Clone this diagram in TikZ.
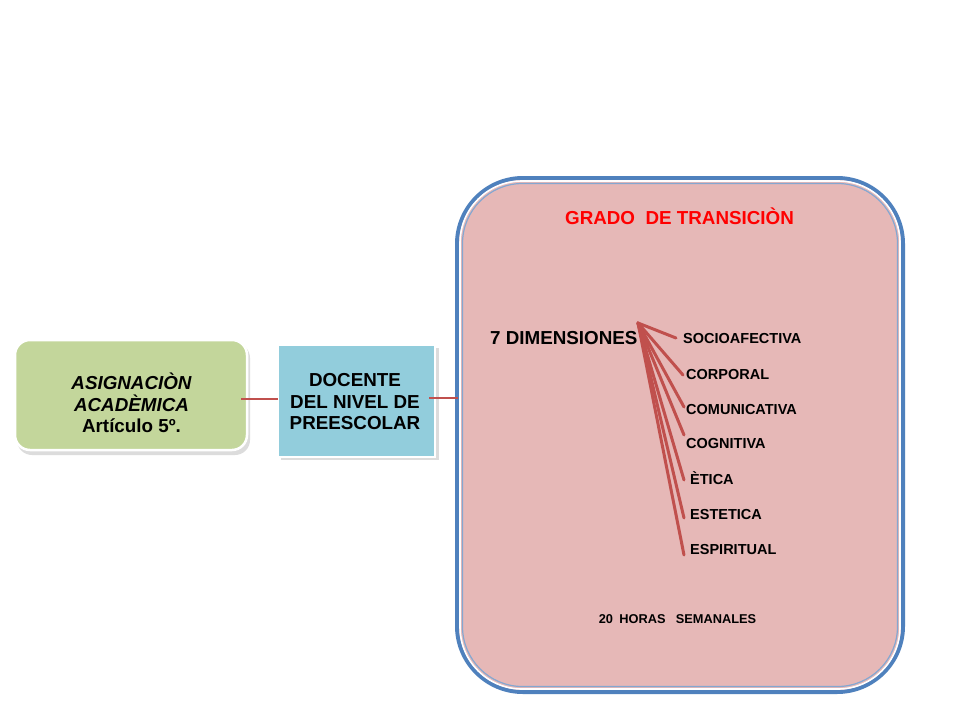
\documentclass[tikz,border=0pt]{standalone}
\usepackage{fontspec}
\setmainfont{Liberation Sans}
\usetikzlibrary{calc}
\definecolor{bigfill}{HTML}{E6B8B7}
\definecolor{bigblue}{HTML}{4F81BD}
\definecolor{greenfill}{HTML}{C3D69B}
\definecolor{bluefill}{HTML}{92CDDC}
\definecolor{linkred}{HTML}{C0504D}
\definecolor{titlered}{HTML}{FF0000}
\begin{document}
\begin{tikzpicture}[x=1pt,y=1pt,
  link/.style={draw=linkred,line width=2.8pt},
  fan/.style={draw=linkred,line width=3pt,line cap=round},
  dimlabel/.style={anchor=base west,inner sep=0pt,font=\fontsize{14.5}{16}\selectfont\bfseries},
  boxtext/.style={align=center,inner sep=0pt,font=\fontsize{18.8}{21.5}\selectfont\bfseries}]
\useasboundingbox (0,0) rectangle (960,-720);
\fill[white] (0,0) rectangle (960,-720);
% big box
\draw[bigblue,line width=4pt,fill=bigfill,rounded corners=66pt] (457,-178) rectangle (903,-692);
\draw[white,line width=1.6pt,rounded corners=62pt] (460,-181) rectangle (900,-689);
\draw[bigblue!70,line width=1.2pt,rounded corners=60pt] (462.5,-183.5) rectangle (897.5,-686.5);
% green box
\fill[black!30,opacity=0.45,rounded corners=15pt] (17,-343) rectangle (250,-455);
\draw[white,line width=2.5pt,fill=greenfill,rounded corners=15pt] (15,-340) rectangle (247,-450);
\node[boxtext] (asig) at (131.5,-403) {\itshape ASIGNACIÒN\\\itshape ACADÈMICA\\Artículo 5º.};
\coordinate (asigR) at (241,-399);
% blue box
\fill[black!30,opacity=0.45] (281,-348) rectangle (439,-460);
\draw[white,line width=2.5pt,fill=bluefill] (278,-345) rectangle (435,-457);
\node[boxtext] (doc) at (355,-402) {DOCENTE\\DEL NIVEL DE\\PREESCOLAR};
\coordinate (docL) at (278,-399);
\coordinate (docR) at (429,-398);
\coordinate (bigL) at (458,-398);
\draw[link] (asigR) -- (docL);
\draw[link] (docR) -- (bigL);
% texts
\node[anchor=base,inner sep=0pt,text=titlered,font=\fontsize{18.8}{20}\selectfont\bfseries] (grado) at (679.5,-224) {GRADO\ \ DE TRANSICIÒN};
\node[anchor=base west,inner sep=0pt,font=\fontsize{18.8}{20}\selectfont\bfseries] (dim) at (490,-344) {7 DIMENSIONES};
\coordinate (hub) at (638,-323);
\node[dimlabel] (d1) at (683,-343) {SOCIOAFECTIVA};
\node[dimlabel] (d2) at (686,-379) {CORPORAL};
\node[dimlabel] (d3) at (686,-414) {COMUNICATIVA};
\node[dimlabel] (d4) at (686,-448) {COGNITIVA};
\node[dimlabel] (d5) at (690,-484) {ÈTICA};
\node[dimlabel] (d6) at (690,-519) {ESTETICA};
\node[dimlabel] (d7) at (690,-554) {ESPIRITUAL};
\draw[fan] (hub) -- ($(d1.base west)+(-7,5)$);
\draw[fan] (hub) -- ($(d2.base west)+(-3,4)$);
\draw[fan] (hub) -- ($(d3.base west)+(-2,7)$);
\draw[fan] (hub) -- ($(d4.base west)+(-2,13)$);
\draw[fan] (hub) -- ($(d5.base west)+(-6,4)$);
\draw[fan] (hub) -- ($(d6.base west)+(-6,1)$);
\draw[fan] (hub) -- ($(d7.base west)+(-6,-1)$);
\node[anchor=base,inner sep=0pt,font=\fontsize{12.8}{14}\selectfont\bfseries] (horas) at (677.5,-623.5) {20\hspace{0.5em}HORAS\hspace{0.8em}SEMANALES};
\end{tikzpicture}
\end{document}
